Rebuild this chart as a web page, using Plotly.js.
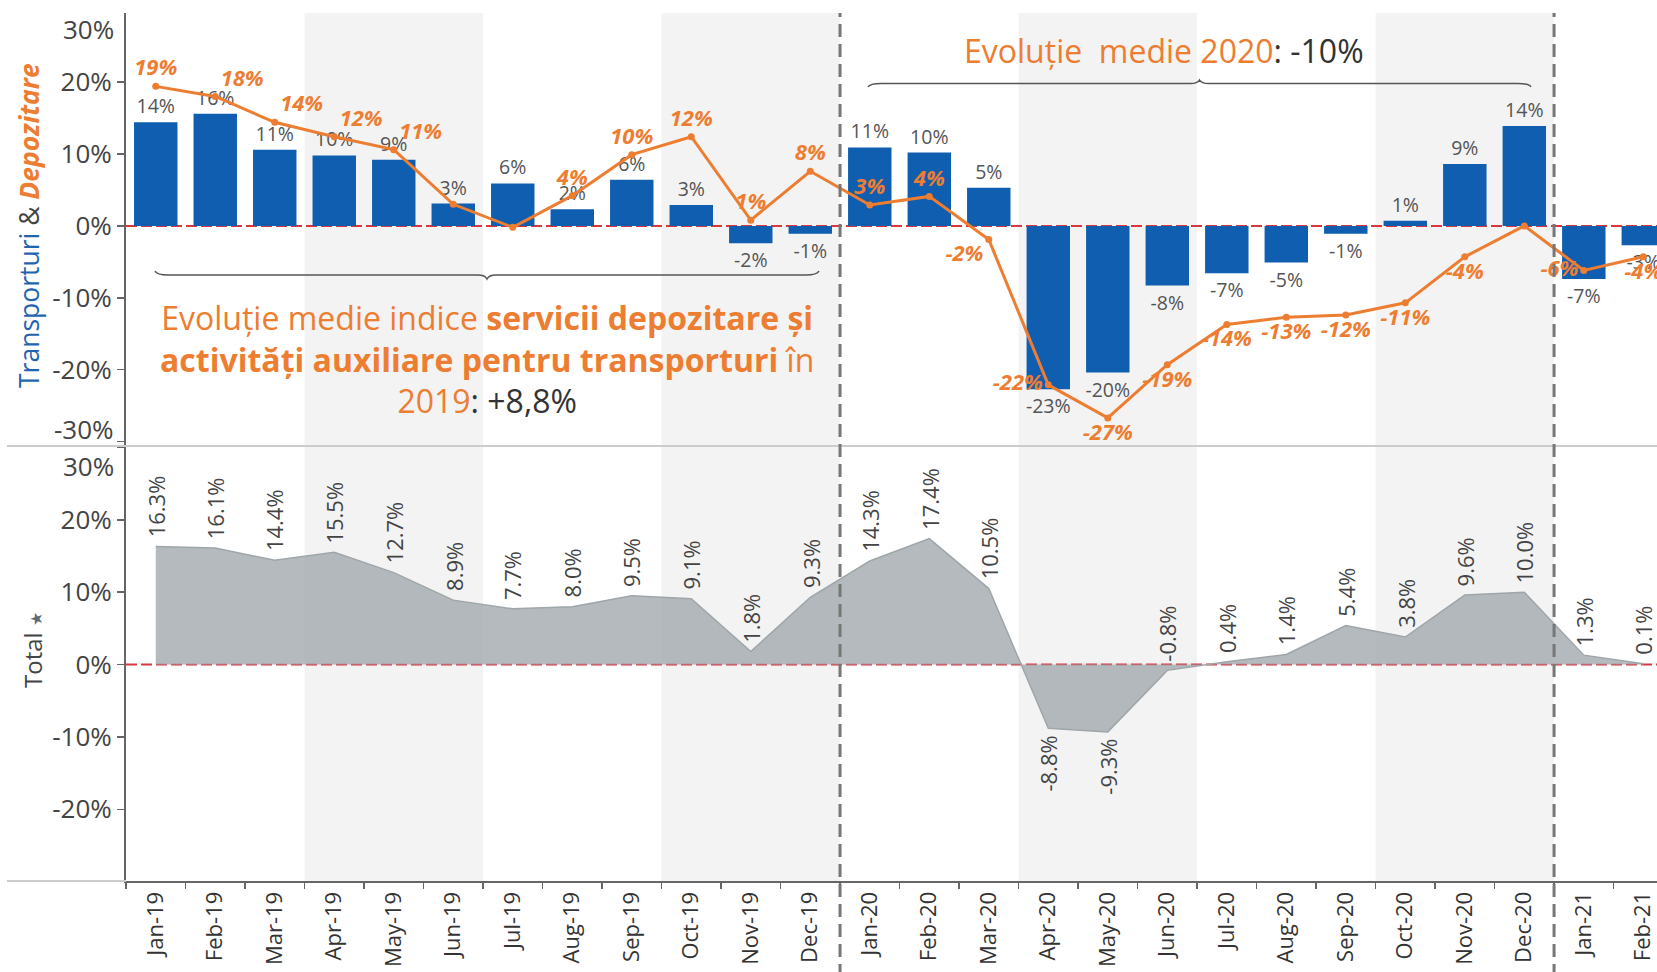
<!DOCTYPE html>
<html>
<head>
<meta charset="utf-8">
<script src="https://cdn.plot.ly/plotly-3.0.1.min.js"></script>
<style>
html,body{margin:0;padding:0;background:#fff;overflow:hidden}
#chart{width:1657px;height:972px}
</style>
</head>
<body>
<div id="chart"></div>
<script>
// ---- data ----
const months = ['Jan-19','Feb-19','Mar-19','Apr-19','May-19','Jun-19','Jul-19','Aug-19','Sep-19','Oct-19','Nov-19','Dec-19',
                'Jan-20','Feb-20','Mar-20','Apr-20','May-20','Jun-20','Jul-20','Aug-20','Sep-20','Oct-20','Nov-20','Dec-20',
                'Jan-21','Feb-21'];
const transporturi = [14.4, 15.6, 10.6, 9.8, 9.2, 3.1, 5.9, 2.3, 6.4, 2.9, -2.4, -1.1,
                      10.9, 10.2, 5.3, -22.7, -20.4, -8.3, -6.6, -5.1, -1.1, 0.7, 8.6, 13.9,
                      -7.4, -2.7];
const depozitare = [19.4, 18.0, 14.4, 12.4, 10.6, 3.0, -0.2, 4.2, 9.9, 12.4, 0.8, 7.6,
                    2.9, 4.1, -1.9, -22.1, -26.7, -19.3, -13.7, -12.7, -12.4, -10.7, -4.3, 0.0,
                    -6.2, -4.3];
const depozitareHidden = ['Jun-19', 'Jul-19', 'Dec-20'];
const depozitarePos = ['top center','top right','top right','top right','top right','top center','top center','top center','top center','top center','top center','top center',
                       'top center','top center','bottom left','middle left','bottom center','bottom center','bottom center','bottom center','bottom center','bottom center','bottom center','bottom center',
                       'middle left','bottom center'];
const total = [16.3, 16.1, 14.4, 15.5, 12.7, 8.9, 7.7, 8.0, 9.5, 9.1, 1.8, 9.3,
               14.3, 17.4, 10.5, -8.8, -9.3, -0.8, 0.4, 1.4, 5.4, 3.8, 9.6, 10.0,
               1.3, 0.1];
const shadedQuarters = [['Apr-19','Jun-19'], ['Oct-19','Dec-19'], ['Apr-20','Jun-20'], ['Oct-20','Dec-20']];
const yearBreaks = [['Dec-19','Jan-20'], ['Dec-20','Jan-21']];
const yTicks = [-30, -20, -10, 0, 10, 20, 30];

// ---- style ----
const FONT = 'Open Sans, sans-serif';
const BLUE = '#0F5EAF';
const ORANGE = '#ED7D31';
const DARK = '#444444';
const W = 1657, H = 972;
const M = {l: 126, r: 0, t: 13, b: 91};
const PW = W - M.l - M.r, PH = H - M.t - M.b;
const split = 0.5012;
const px = x => (x - M.l) / PW;
const py = y => (H - M.b - y) / PH;
const idx = m => months.indexOf(m);

const pct = v => Math.round(v) + '%';

const traces = [
  {
    type: 'bar', x: months, y: transporturi, xaxis: 'x', yaxis: 'y',
    marker: {color: BLUE},
    text: transporturi.map(pct), textposition: 'outside',
    textfont: {family: FONT, size: 19.5, color: '#555'},
    constraintext: 'none', cliponaxis: false, hoverinfo: 'skip'
  },
  {
    type: 'scatter', mode: 'lines+markers+text', x: months, y: depozitare, xaxis: 'x', yaxis: 'y',
    line: {color: ORANGE, width: 3},
    marker: {color: ORANGE, size: 7},
    text: depozitare.map((v, i) => depozitareHidden.includes(months[i]) ? '' : pct(v)),
    textposition: depozitarePos,
    textfont: {family: FONT, size: 22, color: ORANGE, weight: 'bold', style: 'italic'},
    cliponaxis: false, hoverinfo: 'skip'
  },
  {
    type: 'scatter', mode: 'lines', x: months, y: total, xaxis: 'x', yaxis: 'y2',
    fill: 'tozeroy', fillcolor: 'rgba(163,171,174,0.82)',
    line: {color: '#9ea6a9', width: 1.5},
    hoverinfo: 'skip'
  }
];

const shapes = [];
shadedQuarters.forEach(([a, b]) => shapes.push({
  type: 'rect', xref: 'x', yref: 'paper', x0: idx(a) - 0.5, x1: idx(b) + 0.5, y0: 0, y1: 1,
  fillcolor: '#f3f3f3', line: {width: 0}, layer: 'below'
}));
['y', 'y2'].forEach(ax => shapes.push({
  type: 'line', xref: 'paper', yref: ax, x0: 0, x1: 1, y0: 0, y1: 0,
  line: {color: '#d9363e', width: 2, dash: '11px,4px'}, layer: 'below'
}));
// separators
shapes.push({type: 'line', xref: 'paper', yref: 'paper', x0: px(7), x1: 1, y0: split, y1: split,
  line: {color: '#cccccc', width: 2}});
shapes.push({type: 'line', xref: 'paper', yref: 'paper', x0: px(7), x1: 0, y0: 0, y1: 0,
  line: {color: '#cccccc', width: 2}});
// year break dashed lines
yearBreaks.forEach(([a, b]) => shapes.push({
  type: 'line', xref: 'x', yref: 'paper', x0: (idx(a) + idx(b)) / 2, x1: (idx(a) + idx(b)) / 2,
  y0: py(H + 5), y1: 1, line: {color: '#777777', width: 3, dash: '13px,7px'}, layer: 'above'
}));
// braces
function brace(x0, x1, y, dir, curl) {
  const xm = (x0 + x1) / 2;
  const yl = y, ye = y - dir * curl, yt = y + dir * curl;
  const P = (x, yy) => px(x).toFixed(5) + ',' + py(yy).toFixed(5);
  return 'M' + P(x0, ye) + ' Q' + P(x0 + 2, yl) + ' ' + P(x0 + 13, yl) +
         ' L' + P(xm - 9, yl) + ' Q' + P(xm - 2, yl) + ' ' + P(xm, yt) +
         ' Q' + P(xm + 2, yl) + ' ' + P(xm + 9, yl) +
         ' L' + P(x1 - 13, yl) + ' Q' + P(x1 - 2, yl) + ' ' + P(x1, ye);
}
shapes.push({type: 'path', xref: 'paper', yref: 'paper', path: brace(155, 819, 275, 1, 4),
  line: {color: '#555', width: 1.5}});
shapes.push({type: 'path', xref: 'paper', yref: 'paper', path: brace(868, 1531, 83.5, -1, 3.5),
  line: {color: '#555', width: 1.5}});

const annotations = [
  {
    xref: 'paper', yref: 'paper', x: px(487), y: py(359), xanchor: 'center', yanchor: 'middle',
    showarrow: false, align: 'center',
    text: 'Evoluție medie indice <b>servicii depozitare și</b><br><b>activități auxiliare pentru transporturi</b> în<br>2019<span style="color:#333">: +8,8%</span>',
    font: {family: FONT, size: 32, color: ORANGE}
  },
  {
    xref: 'paper', yref: 'paper', x: px(1164), y: py(51), xanchor: 'center', yanchor: 'middle',
    showarrow: false,
    text: 'Evoluție  medie 2020<span style="color:#333">: -10%</span>',
    font: {family: FONT, size: 32, color: ORANGE}
  },
  {
    xref: 'paper', yref: 'paper', x: px(29), y: py(226), xanchor: 'center', yanchor: 'middle',
    showarrow: false, textangle: -90,
    text: '<span style="color:#1F64B0">Transporturi</span> <span style="color:#444">&amp;</span> <b><i>Depozitare</i></b>',
    font: {family: FONT, size: 26.5, color: ORANGE}
  },
  {
    xref: 'paper', yref: 'paper', x: px(32), y: py(650), xanchor: 'center', yanchor: 'middle',
    showarrow: false, textangle: -90,
    text: 'Total <span style="font-size:16px;color:#5d6b78">★</span>',
    font: {family: FONT, size: 24, color: DARK}
  },
  {xref: 'paper', yref: 'paper', x: px(116), y: py(29), xanchor: 'right', yanchor: 'middle', showarrow: false,
   text: '30%', font: {family: FONT, size: 26, color: DARK}},
  {xref: 'paper', yref: 'paper', x: px(116), y: py(429), xanchor: 'right', yanchor: 'middle', showarrow: false,
   text: '-30%', font: {family: FONT, size: 26, color: DARK}},
  {xref: 'paper', yref: 'paper', x: px(116), y: py(466), xanchor: 'right', yanchor: 'middle', showarrow: false,
   text: '30%', font: {family: FONT, size: 26, color: DARK}}
];
total.forEach((v, i) => {
  const below = v < -1;
  annotations.push({
    xref: 'x', yref: 'y2', x: months[i], y: v, showarrow: false, textangle: -90,
    xanchor: 'center', yanchor: below ? 'top' : 'bottom', yshift: below ? -5 : 7,
    text: v.toFixed(1) + '%', font: {family: FONT, size: 22, color: '#444'}
  });
});

const yTickText = (hidden) => yTicks.map(v => hidden.includes(v) ? '' : v + '%');

const layout = {
  width: W, height: H, margin: M,
  paper_bgcolor: '#fff', plot_bgcolor: 'rgba(0,0,0,0)',
  showlegend: false, hovermode: false, bargap: 0.27,
  font: {family: FONT, color: DARK},
  xaxis: {
    type: 'category', categoryorder: 'array', categoryarray: months,
    range: [-0.5, 25.23],
    anchor: 'y2', tickson: 'boundaries', ticks: 'outside', ticklen: 6, tickwidth: 1.5, tickcolor: '#666',
    showline: true, linecolor: '#666', linewidth: 2, tickangle: -90,
    tickfont: {family: FONT, size: 22, color: '#333'}, showgrid: false, zeroline: false
  },
  yaxis: {
    domain: [split, 1], range: [-30.6, 29.6], anchor: 'x',
    tickvals: yTicks, ticktext: yTickText([-30, 30]),
    ticks: 'outside', ticklen: 7, tickwidth: 1.5, tickcolor: '#666',
    showline: true, linecolor: '#666', linewidth: 2,
    tickfont: {family: FONT, size: 26, color: DARK}, showgrid: false, zeroline: false
  },
  yaxis2: {
    domain: [0, split], range: [-29.9, 30.2], anchor: 'x',
    tickvals: yTicks, ticktext: yTickText([-30, 30]),
    ticks: 'outside', ticklen: 7, tickwidth: 1.5, tickcolor: '#666',
    showline: true, linecolor: '#666', linewidth: 2,
    tickfont: {family: FONT, size: 26, color: DARK}, showgrid: false, zeroline: false
  },
  shapes: shapes,
  annotations: annotations
};

Plotly.newPlot('chart', traces, layout, {displayModeBar: false, staticPlot: true});
</script>
</body>
</html>
